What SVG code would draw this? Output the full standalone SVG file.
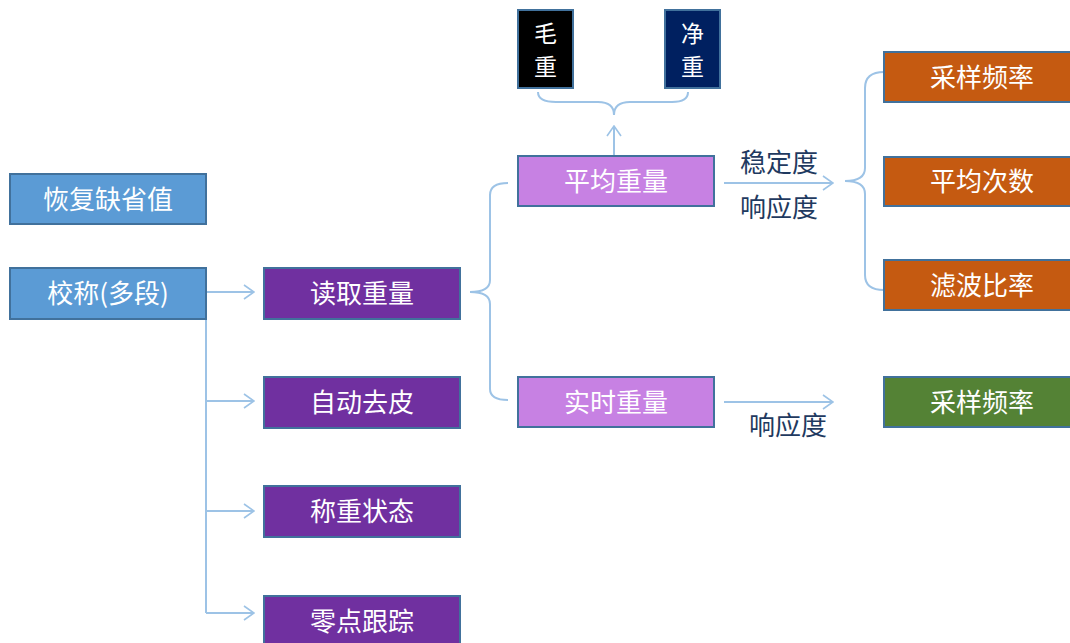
<svg xmlns="http://www.w3.org/2000/svg" width="1070" height="643" viewBox="0 0 1070 643">
<style>
.box{stroke:#41719C;stroke-width:2}
.t{font-family:"Noto Sans CJK SC","Noto Sans CJK JP",sans-serif;font-size:26px;fill:#FFFFFF;text-anchor:middle;dominant-baseline:central}
.v{font-size:23px}
.lbl{font-family:"Noto Sans CJK SC","Noto Sans CJK JP",sans-serif;font-size:26px;fill:#1F3A60;text-anchor:middle;dominant-baseline:central}
.c{fill:none;stroke:#9DC3E6;stroke-width:2}
.blue{fill:#5B9BD5}
.dp{fill:#7030A0}
.lp{fill:#C781E3}
.or{fill:#C55A11}
.gr{fill:#548235}
</style>
<defs>
<marker id="arr" viewBox="0 0 12 16" refX="11" refY="8" markerWidth="12" markerHeight="16" markerUnits="userSpaceOnUse" orient="auto">
<path d="M1 1 L11 8 L1 15" fill="none" stroke="#9DC3E6" stroke-width="1.6"/>
</marker>
</defs>
<rect width="1070" height="643" fill="#FFFFFF"/>
<g id="connectors">
<path class="c" d="M206 292 H254" marker-end="url(#arr)"/>
<path class="c" d="M206 319 V613"/>
<path class="c" d="M206 401 H254" marker-end="url(#arr)"/>
<path class="c" d="M206 511 H254" marker-end="url(#arr)"/>
<path class="c" d="M206 613 H254" marker-end="url(#arr)"/>
<path class="c" d="M470 292 Q490 292 490 280 V195 Q490 183 508 183"/>
<path class="c" d="M470 292 Q490 292 490 304 V389 Q490 400 508 400"/>
<path class="c" d="M614 156 V126" marker-end="url(#arr)"/>
<path class="c" d="M538 92 Q538 102 556 102 H598 Q614 102 614 115 Q614 102 630 102 H672 Q688 102 688 92"/>
<path class="c" d="M724 183 H833" marker-end="url(#arr)"/>
<path class="c" d="M845 181 Q865 181 865 168 V88 Q865 72 884 72"/>
<path class="c" d="M845 181 Q865 181 865 194 V275 Q865 290 884 290"/>
<path class="c" d="M724 402 H833" marker-end="url(#arr)"/>
</g>
<g id="n-restore"><rect class="box blue" x="10" y="174" width="196" height="50"/><text class="t" x="108" y="197">恢复缺省值</text></g>
<g id="n-calib"><rect class="box blue" x="10" y="268" width="196" height="51"/><text class="t" x="108" y="291">校称(多段)</text></g>
<g id="n-read"><rect class="box dp" x="264" y="268" width="196" height="51"/><text class="t" x="362" y="291">读取重量</text></g>
<g id="n-tare"><rect class="box dp" x="264" y="377" width="196" height="51"/><text class="t" x="362" y="400">自动去皮</text></g>
<g id="n-state"><rect class="box dp" x="264" y="486" width="196" height="51"/><text class="t" x="362" y="509">称重状态</text></g>
<g id="n-zero"><rect class="box dp" x="264" y="596" width="196" height="51"/><text class="t" x="362" y="619">零点跟踪</text></g>
<g id="n-avg"><rect class="box lp" x="518" y="156" width="196" height="50"/><text class="t" x="616" y="179">平均重量</text></g>
<g id="n-rt"><rect class="box lp" x="518" y="377" width="196" height="50"/><text class="t" x="616" y="400">实时重量</text></g>
<g id="n-gross"><rect class="box" fill="#000000" x="518" y="10" width="55" height="78"/><text class="t v" x="545.5" y="32">毛</text><text class="t v" x="545.5" y="65">重</text></g>
<g id="n-net"><rect class="box" fill="#002060" x="665" y="10" width="55" height="78"/><text class="t v" x="692.5" y="32">净</text><text class="t v" x="692.5" y="65">重</text></g>
<g id="n-freq1"><rect class="box or" x="884" y="52" width="196" height="50"/><text class="t" x="982" y="75">采样频率</text></g>
<g id="n-count"><rect class="box or" x="884" y="157" width="196" height="49"/><text class="t" x="982" y="179">平均次数</text></g>
<g id="n-filter"><rect class="box or" x="884" y="260" width="196" height="50"/><text class="t" x="982" y="283">滤波比率</text></g>
<g id="n-freq2"><rect class="box gr" x="884" y="377" width="196" height="50"/><text class="t" x="982" y="400">采样频率</text></g>
<g id="labels">
<text class="lbl" x="779" y="160">稳定度</text>
<text class="lbl" x="779" y="205">响应度</text>
<text class="lbl" x="788" y="423">响应度</text>
</g>
</svg>
